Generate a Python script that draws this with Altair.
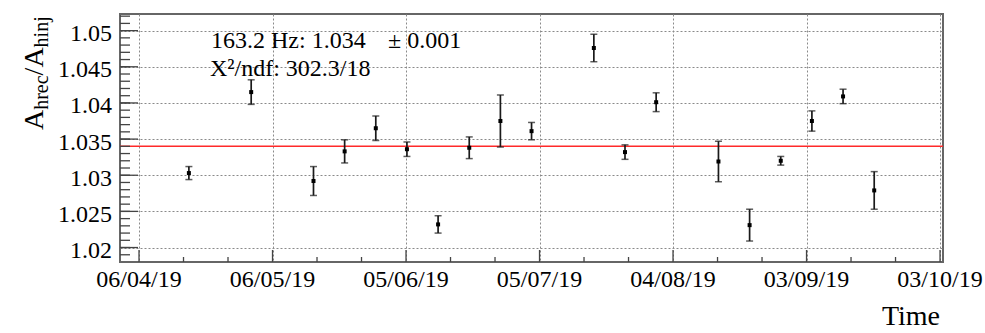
import altair as alt
import pandas as pd

# ---------------- data ----------------
dates = ["2019-04-17T05:00:00Z", "2019-05-01T05:00:00Z", "2019-05-15T05:00:00Z",
         "2019-05-22T05:00:00Z", "2019-05-29T05:00:00Z", "2019-06-05T05:00:00Z",
         "2019-06-12T05:00:00Z", "2019-06-19T05:00:00Z", "2019-06-26T05:00:00Z",
         "2019-07-03T05:00:00Z", "2019-07-17T05:00:00Z", "2019-07-24T05:00:00Z",
         "2019-07-31T05:00:00Z", "2019-08-14T05:00:00Z", "2019-08-21T05:00:00Z",
         "2019-08-28T05:00:00Z", "2019-09-04T05:00:00Z", "2019-09-11T05:00:00Z",
         "2019-09-18T05:00:00Z"]
ratio = [1.0303, 1.0415, 1.0292, 1.0333, 1.0365, 1.0336, 1.0232, 1.0338, 1.0375,
         1.0361, 1.0476, 1.0332, 1.0401, 1.0319, 1.0231, 1.0320, 1.0375, 1.0409,
         1.0279]
err = [0.0009, 0.0017, 0.0020, 0.0016, 0.0017, 0.0010, 0.0012, 0.0015, 0.0036,
       0.0012, 0.0019, 0.0010, 0.0013, 0.0028, 0.0022, 0.0006, 0.0014, 0.0010,
       0.0026]
fit_value = [1.034]

y_major = [1.02, 1.025, 1.03, 1.035, 1.04, 1.045, 1.05]
y_labels = ["1.02", "1.025", "1.03", "1.035", "1.04", "1.045", "1.05"]
y_minor = [round(1.019 + 0.001 * i, 3) for i in range(34)]
x_major = ["2019-04-06", "2019-05-06", "2019-06-05", "2019-07-05",
           "2019-08-04", "2019-09-03", "2019-10-03"]
x_labels = ["06/04/19", "06/05/19", "05/06/19", "05/07/19", "04/08/19", "03/09/19", "03/10/19"]
x_minor = ["2019-04-16", "2019-04-26", "2019-05-16", "2019-05-26", "2019-06-15",
           "2019-06-25", "2019-07-15", "2019-07-25", "2019-08-14", "2019-08-24",
           "2019-09-13", "2019-09-23"]
x_domain = ["2019-04-01 17:30", "2019-10-03 16:00"]
y_domain = [1.018, 1.0523]

stat_line1 = "163.2 Hz: 1.034"
stat_pm = "\u00b1 0.001"
stat_line2 = "X\u00b2/ndf: 302.3/18"
x_title = "Time"

# ---------------- helpers ----------------
def ms(s):
    return int(pd.Timestamp(s).value // 10**6)

FONT = "Liberation Serif"
W, H = 823, 248

xscale = alt.Scale(type="utc", domain=[ms(d) for d in x_domain])
yscale = alt.Scale(domain=y_domain, nice=False, zero=False)

df = pd.DataFrame({"date": dates, "ratio": ratio, "err": err})

base = alt.Chart(df).transform_calculate(
    lo="datum.ratio - datum.err", hi="datum.ratio + datum.err"
)

xaxis = alt.Axis(values=[ms(d) for d in x_major], title="", labels=False)
yaxis = alt.Axis(values=y_major, title="", labels=False)

def X(field):
    return alt.X(field, scale=xscale, axis=xaxis)

def Y(field):
    return alt.Y(field, scale=yscale, axis=yaxis)

bars = base.mark_rule(color="#1a1a1a", strokeWidth=1.7).encode(
    x=X("date:T"), y=Y("lo:Q"), y2="hi:Q",
)
cap_lo = base.mark_tick(orient="horizontal", color="#1a1a1a", size=7, thickness=1.5).encode(
    x=X("date:T"), y=Y("lo:Q"),
)
cap_hi = base.mark_tick(orient="horizontal", color="#1a1a1a", size=7, thickness=1.5).encode(
    x=X("date:T"), y=Y("hi:Q"),
)
points = base.mark_square(color="black", size=16, opacity=1).encode(
    x=X("date:T"), y=Y("ratio:Q"),
)

fit = alt.Chart(pd.DataFrame({"f": fit_value})).mark_rule(
    color="#ff2a2a", strokeWidth=1.6
).encode(y=Y("f:Q"))

# inward ticks
tick_col = "#444"
ydf = pd.DataFrame({"v": y_major, "lab": y_labels})
xdf = pd.DataFrame({"t": [ms(d) for d in x_major], "lab": x_labels})

ymaj = alt.Chart(ydf).mark_rule(color=tick_col, strokeWidth=1.3).encode(
    y=Y("v:Q"), x=alt.value(0), x2=alt.value(18))
ymin = alt.Chart(pd.DataFrame({"v": y_minor})).mark_rule(color=tick_col, strokeWidth=1.3, clip=True).encode(
    y=Y("v:Q"), x=alt.value(0), x2=alt.value(10))
xmaj = alt.Chart(xdf).mark_rule(color=tick_col, strokeWidth=1.3).encode(
    x=X("t:T"), y=alt.value(H), y2=alt.value(H - 12))
xmin = alt.Chart(pd.DataFrame({"t": [ms(d) for d in x_minor]})).mark_rule(color=tick_col, strokeWidth=1.3).encode(
    x=X("t:T"), y=alt.value(H), y2=alt.value(H - 5))

# tick labels
ylab = alt.Chart(ydf).mark_text(font=FONT, fontSize=24, color="black", align="right",
                                baseline="alphabetic", dy=10.5).encode(
    y=Y("v:Q"), x=alt.value(-8), text="lab:N")
xlab = alt.Chart(xdf).mark_text(font=FONT, fontSize=24, color="black", align="center",
                                baseline="alphabetic").encode(
    x=X("t:T"), y=alt.value(H + 24.5), text="lab:N")

one = pd.DataFrame({"a": [0]})

def label(text, x, y, size, align="left", angle=0):
    kw = dict(text=text, font=FONT, fontSize=size, color="black", align=align,
              baseline="alphabetic")
    if angle:
        kw["angle"] = angle
    return alt.Chart(one).mark_text(**kw).encode(x=alt.value(x), y=alt.value(y))

texts = [
    label(stat_line1, 91, 34, 24),
    label(stat_pm, 268, 34, 24),
    label(stat_line2, 90, 61.5, 24),
    label(x_title, 820, 311, 28, align="right"),
    # y-axis title A_hrec / A_hinj, rotated
    label("A", -77, 116, 28, angle=270),
    label("hrec", -72, 95.8, 20, angle=270),
    label("/", -77, 61.4, 28, angle=270),
    label("A", -77, 53.6, 28, angle=270),
    label("hinj", -72, 33.4, 20, angle=270),
]

chart = alt.layer(
    fit, bars, cap_lo, cap_hi, points, ymaj, ymin, xmaj, xmin, ylab, xlab, *texts
).properties(
    width=W, height=H,
    padding={"left": 120, "top": 14, "right": 42, "bottom": 71},
    autosize=alt.AutoSizeParams(type="none"),
    background="white",
).configure_view(
    stroke="#666", strokeWidth=2
).configure_axis(
    grid=True, ticks=False, domain=False, labels=False,
    gridColor="#8a8a8a", gridDash=[2, 2], gridWidth=1,
)

chart.save("out.html", embed_options={"renderer": "svg", "actions": False})
